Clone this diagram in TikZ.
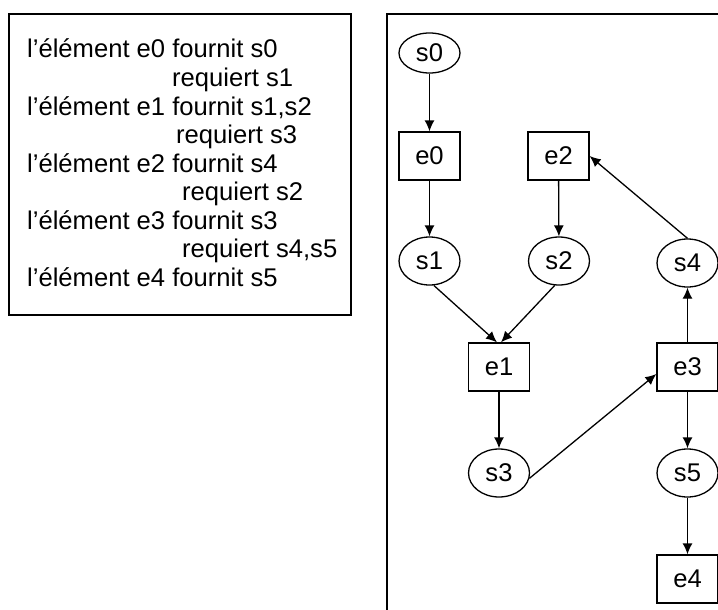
\documentclass[tikz,border=0pt]{standalone}
\usepackage{fontspec}
\setmainfont{Liberation Sans}
\usetikzlibrary{arrows.meta,shapes.geometric}
\tikzset{%
	service/.style = {draw, ellipse, minimum width=61pt, minimum height=48pt, inner sep=0pt, line width=1.3pt, font=\fontsize{25.6}{28.5}\selectfont},
	element/.style = {draw, rectangle, minimum width=61pt, minimum height=48pt, inner sep=0pt, line width=1.3pt, font=\fontsize{25.6}{28.5}\selectfont},
	fleche/.style  = {line width=1.3pt, -{Latex[length=11pt,width=10pt]}},
	ligne/.style   = {anchor=base west, inner sep=0pt, font=\fontsize{25.6}{28.5}\selectfont},
	cadre/.style   = {line width=1.4pt},
}
\begin{document}
\begin{tikzpicture}[x=1pt,y=-1pt]
	\useasboundingbox (0,0) rectangle (718,610);
	\clip (0,0) rectangle (718,610);
	% liste des elements
	\draw[cadre] (9,14) rectangle (351,315);
	\foreach \txt/\dx [count=\i from 0] in {{l’élément e0 fournit s0}/0, {requiert s1}/145, {l’élément e1 fournit s1,s2}/0, {requiert s3}/149, {l’élément e2 fournit s4}/0, {requiert s2}/155, {l’élément e3 fournit s3}/0, {requiert s4,s5}/155, {l’élément e4 fournit s5}/0}
		\node[ligne] (ligne\i) at (27+\dx,58+28.5*\i) {\txt};
	% graphe
	\draw[cadre] (740,14) -- (387,14) -- (387,640);
	\node[service, minimum height=40pt] (s0) at (429.5,53) {s0};
	\node[element] (e0) at (429.5,156) {e0};
	\node[element] (e2) at (558.5,156) {e2};
	\node[service] (s1) at (429.5,261) {s1};
	\node[service] (s2) at (559,261) {s2};
	\node[service] (s4) at (687.5,263) {s4};
	\node[element] (e1) at (499,367) {e1};
	\node[element] (e3) at (687.5,367) {e3};
	\node[service] (s3) at (499,473) {s3};
	\node[service] (s5) at (687.5,473) {s5};
	\node[element] (e4) at (687.5,579) {e4};
	\draw[fleche] (s0) -- (e0);
	\draw[fleche] (e0) -- (s1);
	\draw[fleche] (e2) -- (s2);
	\draw[fleche] (s1.-80) -- ([xshift=-2pt]e1.north);
	\draw[fleche] (s2.-100) -- ([xshift=2pt]e1.north);
	\draw[fleche] (e1) -- (s3);
	\draw[fleche] (s3.-10) -- ([yshift=-7pt]e3.west);
	\draw[fleche] (e3) -- (s4);
	\draw[fleche] (s4.north) -- (e2.east);
	\draw[fleche] (e3) -- (s5);
	\draw[fleche] (s5) -- (e4);
\end{tikzpicture}
\end{document}
